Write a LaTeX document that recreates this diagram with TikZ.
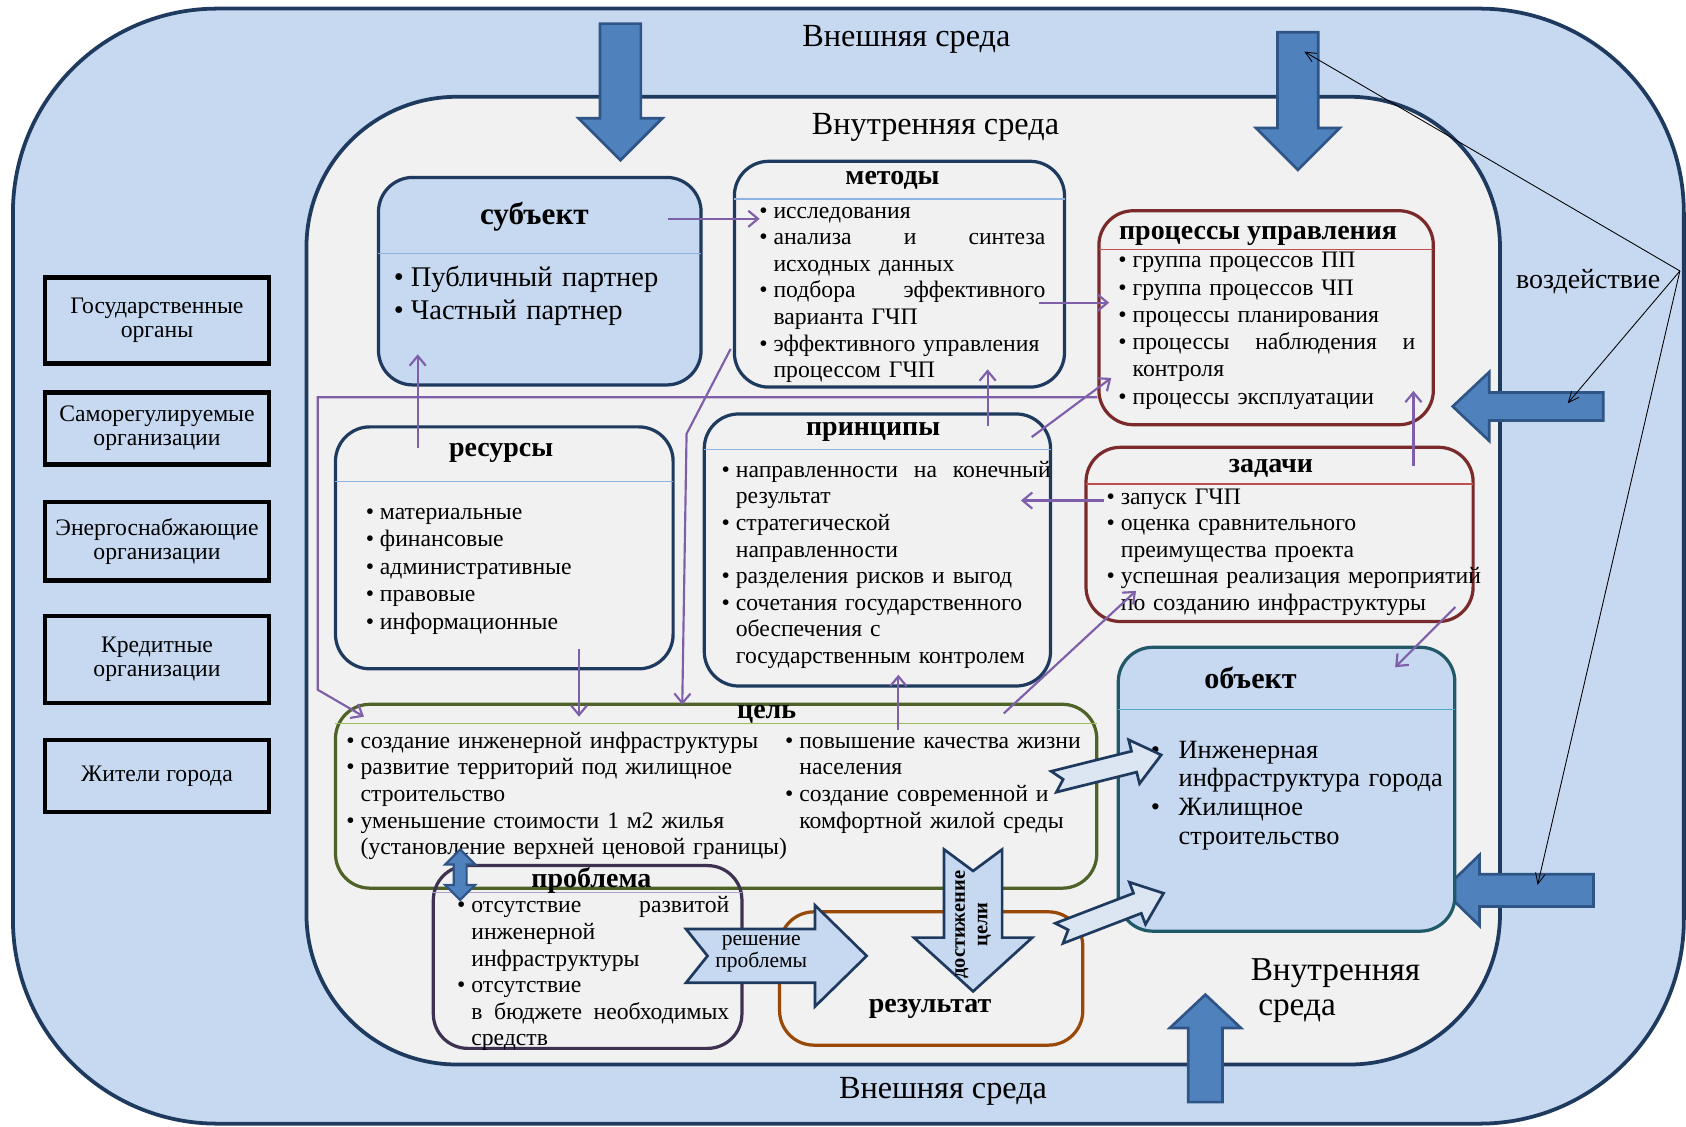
\documentclass[tikz,border=0pt]{standalone}
\usepackage{fontspec}
\setmainfont{Liberation Serif}
\usetikzlibrary{arrows.meta,calc,fit}

\definecolor{envblue}{HTML}{C6D9F1}
\definecolor{envgray}{HTML}{F1F1F1}
\definecolor{navy}{HTML}{1F3A5F}
\definecolor{arrblue}{HTML}{4F81BD}
\definecolor{arrline}{HTML}{2F5587}
\definecolor{lightarr}{HTML}{DCE6F2}
\definecolor{darkred}{HTML}{7A2A2A}
\definecolor{objteal}{HTML}{215968}
\definecolor{goalolive}{HTML}{4F6228}
\definecolor{probpurple}{HTML}{3F3151}
\definecolor{reslbrown}{HTML}{984807}
\definecolor{linkviolet}{HTML}{7F5FAA}
\definecolor{divblue}{HTML}{8DB3E2}
\definecolor{divred}{HTML}{C0504D}
\definecolor{divgreen}{HTML}{9BBB59}
\definecolor{divlilac}{HTML}{B2A1C7}
\definecolor{divteal}{HTML}{4BACC6}

% bullet line and continuation line of a list
\newcommand{\bitem}[2][0.6em]{\noindent\hbox to \linewidth{\makebox[#1][l]{\textbullet}#2\hfil}\par}
\newcommand{\bcont}[2][0.6em]{\noindent\hbox to \linewidth{\hspace*{#1}#2\hfil}\par}
% block arrow: style, tail, angle, length, shaft, head, head length, notch
\newcommand{\blockarrow}[8]{%
  \draw[#1,shift={#2},rotate=#3]
    (0,-#5) -- ({#4-#7},-#5) -- ({#4-#7},-#6) -- (#4,0) -- ({#4-#7},#6)
    -- ({#4-#7},#5) -- (0,#5) -- (#8,0) -- cycle;}

\begin{document}
\begin{tikzpicture}[x=1pt,y=-1pt,
    every node/.style={inner sep=0pt},
    outerenv/.style={fill=envblue,draw=navy,line width=3.5pt,rounded corners=190pt},
    innerenv/.style={fill=envgray,draw=navy,line width=3.5pt,rounded corners=140pt},
    orgbox/.style={draw=black,line width=4pt,fill=envblue,minimum width=208pt,align=center,font=\fontsize{22}{22.5}\selectfont},
    panel/.style={draw=#1,line width=3pt,rounded corners=32pt,inner sep=0pt},
    divider/.style={draw=#1,line width=1.3pt},
    ptitle/.style={anchor=base,font=\bfseries\fontsize{26}{28}\selectfont},
    plist/.style={anchor=base west,text width=#1,font=\fontsize{22}{24.7}\selectfont},
    bigarrow/.style={fill=arrblue,draw=arrline,line width=2.5pt},
    lightarrow/.style={fill=#1,draw=navy,line width=2.5pt},
    link/.style={draw=linkviolet,line width=2pt,-{Straight Barb[length=9pt,width=15pt]}},
    hint/.style={draw=black,line width=0.8pt,-{Straight Barb[length=10pt,width=9pt]}},
    envlabel/.style={anchor=base,font=\fontsize{30}{32}\selectfont}]
    \useasboundingbox (0,0) rectangle (1568,1048);

    % environments
    \draw[outerenv] (12,8) rectangle (1566,1045);
    \draw[innerenv] (285,90) rectangle (1395,990);
    \node[envlabel] (exttop) at (843,43) {Внешняя среда};
    \node[envlabel] (intop) at (870,125) {Внутренняя среда};
    \node[envlabel] (extbot) at (877,1022) {Внешняя среда};
    \node[anchor=base west,text width=170pt,font=\fontsize{31}{32}\selectfont] (inbot) at (1163,912) {Внутренняя\\\hspace*{7pt}среда};

    % outside participants
    \node[orgbox,minimum height=80pt] (org1) at (146,298) {Государственные\\органы};
    \node[orgbox,minimum height=67pt] (org2) at (146,398.5) {Саморегулируемые\\организации};
    \node[orgbox,minimum height=73pt] (org3) at (146,503.5) {Энергоснабжающие\\организации};
    \node[orgbox,minimum height=81pt] (org4) at (146,613.5) {Кредитные\\организации};
    \node[orgbox,minimum height=67pt] (org5) at (146,721.5) {Жители города};

    % influence arrows
    \blockarrow{bigarrow}{(577,22)}{-90}{127}{19}{39}{39}{0}
    \blockarrow{bigarrow}{(1207,30)}{-90}{128}{19}{39}{39}{0}
    \blockarrow{bigarrow}{(1491,378)}{180}{140}{13}{32}{34}{0}
    \blockarrow{bigarrow}{(1482,828)}{180}{140}{15}{33}{34}{0}
    \blockarrow{bigarrow}{(1121,1025)}{90}{100}{16}{33}{31}{0}

    % boxes
    \node[panel=navy,fill=envblue,fit={(352,165) (652,358)}] (subj) {};
    \node[panel=navy,fit={(683,150) (990,360)}] (meth) {};
    \node[panel=darkred,fit={(1022,196) (1333,395)}] (proc) {};
    \node[panel=navy,fit={(312,397) (626,622)}] (res) {};
    \node[panel=navy,fit={(655,385) (977,638)}] (princ) {};
    \node[panel=darkred,fit={(1010,416) (1370,578)}] (task) {};
    \node[panel=objteal,fill=envblue,fit={(1040,602) (1353,866)}] (obj) {};
    \node[panel=goalolive,fit={(312,655) (1020,826)}] (goal) {};
    \node[panel=probpurple,fit={(403,805) (690,975)}] (prob) {};
    \node[panel=reslbrown,fit={(725,848) (1007,972)}] (resl) {};

    \draw[divider=divblue] (352,236) -- (652,236);
    \draw[divider=divblue] (683,185) -- (990,185);
    \draw[divider=divred] (1022,232) -- (1333,232);
    \draw[divider=divblue] (312,448) -- (626,448);
    \draw[divider=divblue] (655,418) -- (977,418);
    \draw[divider=divred] (1010,450) -- (1370,450);
    \draw[divider=divteal] (1040,660) -- (1353,660);
    \draw[divider=divgreen] (312,673) -- (1020,673);
    \draw[divider=divlilac] (403,830) -- (690,830);

    % titles
    \node[ptitle,font=\bfseries\fontsize{29}{30}\selectfont] (subjt) at (497,209) {субъект};
    \node[ptitle] (metht) at (830,172) {методы};
    \node[ptitle] (proct) at (1170,223) {процессы управления};
    \node[ptitle] (rest) at (466,425) {ресурсы};
    \node[ptitle] (princt) at (812,405) {принципы};
    \node[ptitle] (taskt) at (1182,439) {задачи};
    \node[ptitle,font=\bfseries\fontsize{28}{30}\selectfont] (objt) at (1163,640) {объект};
    \node[ptitle] (goalt) at (713,668) {цель};
    \node[ptitle] (probt) at (550,825) {проблема};
    \node[ptitle] (reslt) at (865,942) {результат};

    % lists
    \node[plist=280pt,font=\fontsize{26.5}{31}\selectfont] (subjl) at (366,266) {%
      \bitem{Публичный партнер}\bitem{Частный партнер}};
    \node[plist=266pt] (methl) at (706,203) {%
      \bitem{исследования}
      \bitem{анализа \hfill и \hfill синтеза}\bcont{исходных данных}
      \bitem{подбора \hfill эффективного}\bcont{варианта ГЧП}
      \bitem{эффективного управления}\bcont{процессом ГЧП}};
    \node[plist=276pt,font=\fontsize{22}{25.4}\selectfont] (procl) at (1040,249) {%
      \bitem{группа процессов ПП}
      \bitem{группа процессов ЧП}
      \bitem{процессы планирования}
      \bitem{процессы \hfill наблюдения \hfill и}\bcont{контроля}
      \bitem{процессы эксплуатации}};
    \node[plist=280pt,font=\fontsize{22}{25.5}\selectfont] (resl) at (340,483) {%
      \bitem{материальные}\bitem{финансовые}\bitem{административные}
      \bitem{правовые}\bitem{информационные}};
    \node[plist=306pt] (princl) at (671,444) {%
      \bitem{направленности \hfill на \hfill конечный}\bcont{результат}
      \bitem{стратегической}\bcont{направленности}
      \bitem{разделения рисков и выгод}
      \bitem{сочетания государственного}\bcont{обеспечения с}
      \bcont{государственным контролем}};
    \node[plist=350pt] (taskl) at (1029,469) {%
      \bitem{запуск ГЧП}
      \bitem{оценка сравнительного}\bcont{преимущества проекта}
      \bitem{успешная реализация мероприятий}\bcont{по созданию инфраструктуры}};
    \node[plist=405pt] (goall) at (322,696) {%
      \bitem{создание инженерной инфраструктуры}
      \bitem{развитие территорий под жилищное}\bcont{строительство}
      \bitem{уменьшение стоимости 1 м2 жилья}
      \bcont{(установление верхней ценовой границы)}};
    \node[plist=280pt] (goalr) at (730,696) {%
      \bitem{повышение качества жизни}\bcont{населения}
      \bitem{создание современной и}\bcont{комфортной жилой среды}};
    \node[plist=253pt] (probl) at (425,849) {%
      \bitem{отсутствие \hfill развитой}\bcont{инженерной}\bcont{инфраструктуры}
      \bitem{отсутствие}\bcont{в \hfill бюджете \hfill необходимых}\bcont{средств}};
    \node[plist=280pt,font=\fontsize{24.5}{26.7}\selectfont] (objl) at (1070,705) {%
      \bitem[1.06em]{Инженерная}\bcont[1.06em]{инфраструктура города}
      \bitem[1.06em]{Жилищное}\bcont[1.06em]{строительство}};

    % links between boxes
    \draw[link] ($(subj.north east)+(-32,40)$) -- ($(meth.north west)+(25,55)$);
    \draw[link] ($(meth.north east)+(-25,133)$) -- ($(proc.north west)+(11,87)$);
    \draw[link] ($(res.north west)+(78,21)$) -- ($(subj.south west)+(38,-30)$);
    \draw[link] ($(res.south west)+(228,-20)$) -- ($(goal.north west)+(228,13)$);
    \draw[link] ($(meth.south west)+(-2,-37)$) -- ++(-41,79) -- ($(goal.north west)+(324,2)$);
    \draw[link] ($(princ.north west)+(265,13)$) -- ($(meth.south west)+(237,-18)$);
    \draw[link] ($(princ.north east)+(-19,23)$) -- ($(proc.south west)+(13,-45)$);
    \draw[link] ($(task.north west)+(18,51)$) -- ($(princ.north east)+(-29,82)$);
    \draw[link] ($(task.north east)+(-57,19)$) -- ($(proc.south east)+(-20,-33)$);
    \draw[link] ($(task.south east)+(-18,-15)$) -- ($(obj.north east)+(-57,20)$);
    \draw[link] ($(goal.north west)+(525,25)$) -- ($(princ.south west)+(182,-12)$);
    \draw[link] ($(goal.north east)+(-88,10)$) -- ($(task.south west)+(48,-30)$);
    \draw[link] ($(proc.south west)+(0,-27)$) -- ++(-725,0) -- ++(0,272) -- ($(goal.north west)+(28,13)$);

    % goal <-> problem
    \draw[bigarrow,line width=2pt] (428,790) -- (442,804) -- (434,804) -- (434,823) -- (442,823)
      -- (428,837) -- (414,823) -- (422,823) -- (422,804) -- (414,804) -- cycle;

    % solution and goal arrows
    \blockarrow{lightarrow=envblue}{(638,889)}{0}{168}{25}{47}{48}{20}
    \blockarrow{lightarrow=envblue}{(905,790)}{-90}{132}{27}{55}{50}{20}
    \blockarrow{lightarrow=lightarr}{(980,727)}{14}{103}{10}{21}{26}{9}
    \blockarrow{lightarrow=lightarr}{(985,868)}{21}{104}{10}{21}{26}{9}
    \node[align=center,font=\fontsize{20}{21}\selectfont] (solve) at (708,887) {решение\\проблемы};
    \node[rotate=90,align=center,font=\bfseries\fontsize{19}{21}\selectfont] (reach) at (905,860) {достижение\\цели};

    % influence
    \node[font=\fontsize{26}{28}\selectfont] (vozd) at (1477,262) {воздействие};
    \coordinate (vz) at ($(vozd.east)+(18,-10)$);
    \coordinate (hittop) at (1213,48);
    \coordinate (hitmid) at (1458,375);
    \coordinate (hitlow) at (1430,823);
    \draw[hint] (vz) -- (hittop);
    \draw[hint] (vz) -- (hitmid);
    \draw[hint] (vz) -- (hitlow);
\end{tikzpicture}
\end{document}
